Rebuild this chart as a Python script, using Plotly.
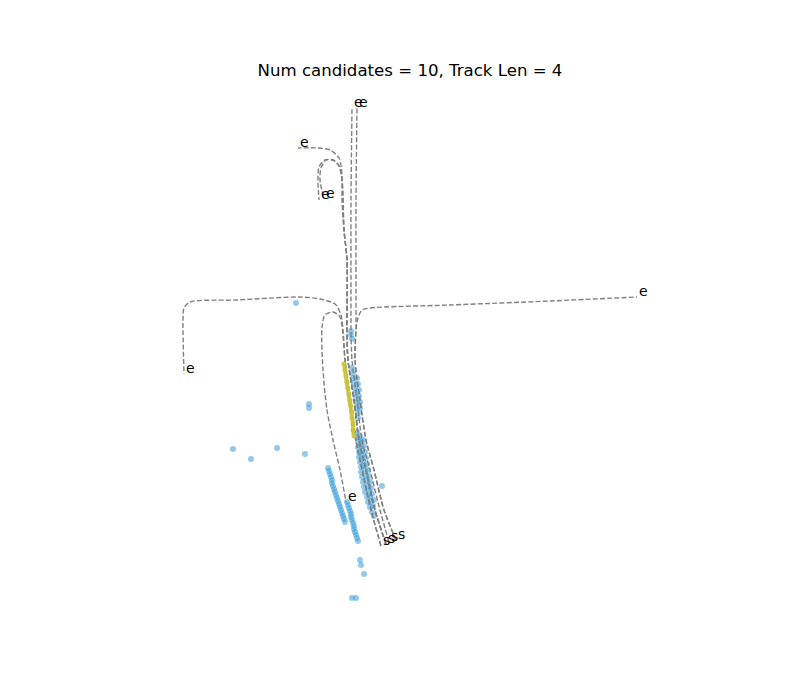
import plotly.graph_objects as go

# ---- trajectories (metres, ego frame) ----
traj1_x = [-0.1, -1.0, -2.0, -2.8, -3.3, -3.8, -3.9, -3.9, -3.9, -3.8]
traj1_y = [-0.2, 3.0, 7.0, 10.0, 14.0, 18.0, 21.0, 24.0, 34.0, 43.2]
traj2_x = [0.6, -0.6, -1.6, -2.4, -3.0, -3.5, -3.4, -3.4, -3.4, -3.3]
traj2_y = [0.0, 3.0, 7.0, 10.0, 14.0, 18.0, 21.0, 24.0, 34.0, 43.2]
traj3_x = [-0.4, -1.5, -2.4, -3.1, -3.6, -4.2, -4.3, -4.3, -4.6, -4.8, -4.8, -5.1, -6.0, -7.2, -9.2]
traj3_y = [-0.4, 3.0, 7.0, 10.0, 14.0, 18.0, 21.0, 28.0, 31.0, 34.0, 36.5, 38.2, 39.0, 39.2, 39.2]
traj4_x = [-0.4, -1.5, -2.4, -3.1, -3.6, -4.2, -4.3, -4.3, -4.6, -4.8, -5.1, -5.7, -6.5, -7.1, -7.2, -7.1]
traj4_y = [-0.4, 3.0, 7.0, 10.0, 14.0, 18.0, 21.0, 28.0, 31.0, 36.0, 37.4, 38.0, 38.0, 37.3, 36.0, 34.0]
traj5_x = [-0.4, -1.5, -2.4, -3.1, -3.6, -4.2, -4.3, -4.3, -4.6, -4.8, -5.1, -5.7, -6.4, -6.9, -7.0, -6.6]
traj5_y = [-0.4, 3.0, 7.0, 10.0, 14.0, 18.0, 21.0, 28.0, 31.0, 36.0, 37.4, 38.0, 38.0, 37.2, 36.0, 34.1]
traj6_x = [0.6, -0.6, -1.6, -2.4, -3.0, -3.5, -3.4, -3.2, -2.8, -2.0, 6.0, 16.0, 24.7]
traj6_y = [0.0, 3.0, 7.0, 10.0, 14.0, 18.0, 21.0, 22.2, 23.0, 23.2, 23.5, 23.9, 24.3]
traj7_x = [-0.9, -1.9, -2.8, -3.4, -4.0, -4.5, -4.7, -4.9, -5.5, -7.0, -9.0, -15.3, -20.0, -20.6, -20.7, -20.6]
traj7_y = [-0.6, 3.0, 7.0, 10.0, 14.0, 18.0, 21.0, 22.5, 23.6, 24.1, 24.3, 24.0, 23.8, 23.2, 22.0, 16.6]
traj8_x = [-0.9, -1.9, -2.8, -3.4, -4.0, -4.5, -4.7, -5.0, -5.7, -6.5, -6.8, -6.7, -6.3, -5.7, -5.0, -4.4]
traj8_y = [-0.6, 3.0, 7.0, 10.0, 14.0, 18.0, 20.5, 22.3, 22.8, 22.5, 21.2, 17.0, 13.0, 10.0, 7.0, 3.8]

trajectories = [(traj1_x, traj1_y), (traj2_x, traj2_y), (traj3_x, traj3_y),
                (traj4_x, traj4_y), (traj5_x, traj5_y), (traj6_x, traj6_y),
                (traj7_x, traj7_y), (traj8_x, traj8_y)]

# ---- candidate detections (metres) ----
single_x = [-9.4, -3.9, -3.9, -3.8, -8.1, -8.1, -15.7, -13.9, -11.3, -8.5, -0.8,
            -3.0, -2.9, -2.6, -3.8, -3.4]
single_y = [23.7, 20.9, 20.5, 20.1, 13.6, 13.2, 9.1, 8.1, 9.2, 8.6, 5.4,
            -2.0, -2.5, -3.4, -5.8, -5.8]

upper_x = [-3.8, -3.7, -3.7, -3.6, -3.5, -3.5, -3.4, -3.3, -3.3, -3.2, -3.2,
           -3.3, -3.2, -3.1, -3.1, -3.0, -3.0]
upper_y = [17.2, 16.7, 16.2, 15.7, 15.2, 14.7, 14.2, 13.7, 13.2, 12.7, 12.2,
           16.2, 15.6, 15.0, 14.4, 13.8, 13.2]

band_left_x = [-3.3, -3.3, -3.2, -3.2, -3.1, -3.1, -3.0, -2.9, -2.9, -2.8, -2.7, -2.6,
               -2.5, -2.3, -2.2, -2.0, -1.8, -1.6]
band_left_y = [10.8, 10.3, 9.8, 9.3, 8.8, 8.3, 7.8, 7.3, 6.8, 6.3, 5.8, 5.3,
               4.8, 4.3, 3.8, 3.3, 2.8, 2.4]
band_mid_x = [-3.0, -2.9, -2.9, -2.8, -2.8, -2.7, -2.6, -2.5, -2.4, -2.3, -2.2, -2.1,
              -2.0, -1.9, -1.7]
band_mid_y = [10.4, 9.9, 9.4, 8.9, 8.4, 7.9, 7.4, 6.9, 6.4, 5.9, 5.4, 4.9,
              4.4, 3.9, 3.4]
band_right_x = [-2.7, -2.6, -2.5, -2.4, -2.3, -2.2, -2.1, -2.0, -1.9, -1.8, -1.6]
band_right_y = [10.0, 9.4, 8.8, 8.2, 7.6, 7.0, 6.4, 5.8, 5.2, 4.6, 4.0]

streak_l_x = [-6.2, -6.1, -6.0, -5.9, -5.8, -5.8, -5.7, -5.6, -5.5, -5.4, -5.3, -5.2,
              -5.1, -5.0, -4.9, -4.8, -4.7, -4.6, -4.5]
streak_l_y = [7.2, 6.9, 6.6, 6.3, 6.0, 5.7, 5.4, 5.1, 4.8, 4.5, 4.2, 3.9,
              3.6, 3.3, 3.0, 2.7, 2.4, 2.1, 1.8]
streak_m_x = [-4.3, -4.2, -4.1, -4.0, -3.9, -3.9, -3.8, -3.7, -3.6, -3.6, -3.5, -3.4,
              -3.3, -3.2]
streak_m_y = [3.8, 3.5, 3.2, 2.9, 2.6, 2.3, 2.0, 1.7, 1.4, 1.1, 0.8, 0.5,
              0.2, -0.1]

best_x = [-4.6, -4.5, -4.4, -4.3, -4.2, -4.1, -4.0, -3.9, -3.8, -3.8, -3.7, -3.7, -3.6]
best_y = [17.6, 17.0, 16.4, 15.8, 15.2, 14.6, 14.0, 13.4, 12.8, 12.2, 11.6, 11.0, 10.4]

title_text = "Num candidates = 10, Track Len = 4"

cand_groups = [(single_x, single_y), (upper_x, upper_y), (band_left_x, band_left_y),
               (band_mid_x, band_mid_y), (band_right_x, band_right_y),
               (streak_l_x, streak_l_y), (streak_m_x, streak_m_y)]

fig = go.Figure()

for gx, gy in cand_groups:
    fig.add_trace(go.Scatter(
        x=gx, y=gy, mode="markers",
        marker=dict(size=6, color="rgba(40,150,215,0.5)", line=dict(width=0)),
        hoverinfo="skip", showlegend=False))

for tx, ty in trajectories:
    fig.add_trace(go.Scatter(
        x=tx, y=ty, mode="lines",
        line=dict(color="rgb(128,128,128)", width=1.4, dash="5px,2.2px",
                  shape="spline", smoothing=0.8),
        hoverinfo="skip", showlegend=False))

fig.add_trace(go.Scatter(
    x=best_x, y=best_y, mode="lines+markers",
    line=dict(color="rgba(200,195,60,0.9)", width=4),
    marker=dict(size=5, color="rgba(200,195,60,0.9)"),
    hoverinfo="skip", showlegend=False))

annotations = []
seen = set()
for tx, ty in trajectories:
    for label, px, py in (("s", tx[0], ty[0]), ("e", tx[-1], ty[-1])):
        key = (label, px, py)
        if key in seen:
            continue
        seen.add(key)
        annotations.append(dict(x=px, y=py, text=label, showarrow=False,
                                xanchor="left", yanchor="bottom", yshift=-4,
                                font=dict(family="DejaVu Sans", size=14, color="black")))

fig.update_layout(
    width=800, height=700,
    margin=dict(l=100, r=80, t=84, b=77),
    paper_bgcolor="white", plot_bgcolor="white",
    title=dict(text=title_text, x=410 / 800, xanchor="center",
               y=1 - 70 / 700, yanchor="middle", yref="container",
               font=dict(family="DejaVu Sans", size=16.6, color="black")),
    xaxis=dict(range=[-29, 33], visible=False, fixedrange=True),
    yaxis=dict(range=[-8.3, 45.6], visible=False, fixedrange=True),
    annotations=annotations,
)

fig.write_html("out.html")
